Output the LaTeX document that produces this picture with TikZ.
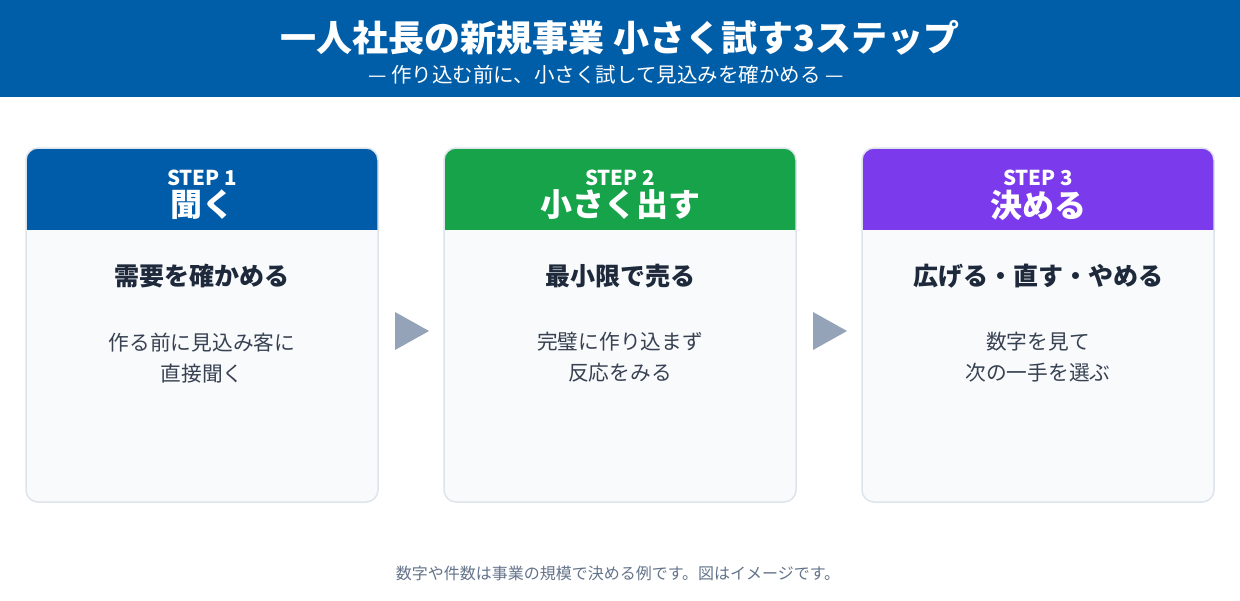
\documentclass[tikz,border=0pt]{standalone}
\usepackage{fontspec}
\setmainfont{Noto Sans CJK JP}
\begin{document}
\begin{tikzpicture}[x=1pt,y=-1pt,
  card/.style={draw=cardline,line width=1.5pt,fill=cardbg,rounded corners=12pt},
  steplbl/.style={text=white,font=\fontsize{20.5}{24}\selectfont\bfseries,anchor=center},
  bigt/.style={text=white,font=\fontsize{32}{36}\selectfont\bfseries,anchor=center},
  head/.style={text=headc,font=\fontsize{25}{28}\selectfont\bfseries,anchor=center},
  body/.style={text=bodyc,font=\fontsize{20.7}{31}\selectfont,align=center,anchor=north},
  arr/.style={fill=arrc,draw=none}]
\definecolor{band}{HTML}{005EA8}
\definecolor{cardline}{HTML}{DDE4EC}
\definecolor{cardbg}{HTML}{F8FAFC}
\definecolor{cA}{HTML}{005BA8}
\definecolor{cB}{HTML}{16A34A}
\definecolor{cC}{HTML}{7C3AED}
\definecolor{headc}{HTML}{1E293B}
\definecolor{bodyc}{HTML}{374151}
\definecolor{arrc}{HTML}{94A3B8}
\definecolor{footc}{HTML}{64748B}
\useasboundingbox (0,0) rectangle (1240,600);
\fill[white] (0,0) rectangle (1240,600);
\fill[band] (0,0) rectangle (1240,97);
\node[text=white,font=\fontsize{36}{40}\selectfont\bfseries] (title) at (620,38) {一人社長の新規事業 小さく試す3ステップ};
\node[text=white,font=\fontsize{20.5}{22}\selectfont] (sub) at (606,75) {— 作り込む前に、小さく試して見込みを確かめる —};
\foreach \x/\c/\n/\s/\b/\h/\l in {26/cA/1/STEP 1/聞く/需要を確かめる/作る前に見込み客に\\直接聞く,
  444/cB/2/STEP 2/小さく出す/最小限で売る/完璧に作り込まず\\反応をみる,
  862/cC/3/STEP 3/決める/広げる・直す・やめる/数字を見て\\次の一手を選ぶ}{
  \begin{scope}
    \clip[rounded corners=12pt] (\x,148) rectangle ++(352,354);
    \fill[cardbg] (\x,148) rectangle ++(352,354);
    \fill[\c] (\x,148) rectangle ++(352,82);
  \end{scope}
  \draw[cardline,line width=1.5pt,rounded corners=12pt] (\x,148) rectangle ++(352,354);
  \node[steplbl] (s\n) at (\x+176,178) {\s};
  \node[bigt] (t\n) at (\x+176,205) {\b};
  \node[head] (h\n) at (\x+176,276) {\h};
  \node[body] (b\n) at (\x+176,329) {\l};
}
\fill[arr] (395,312) -- (429,331) -- (395,350) -- cycle;
\fill[arr] (813,312) -- (847,331) -- (813,350) -- cycle;
\node[text=footc,font=\fontsize{16}{18}\selectfont] (foot) at (618,573) {数字や件数は事業の規模で決める例です。図はイメージです。};
\end{tikzpicture}
\end{document}
